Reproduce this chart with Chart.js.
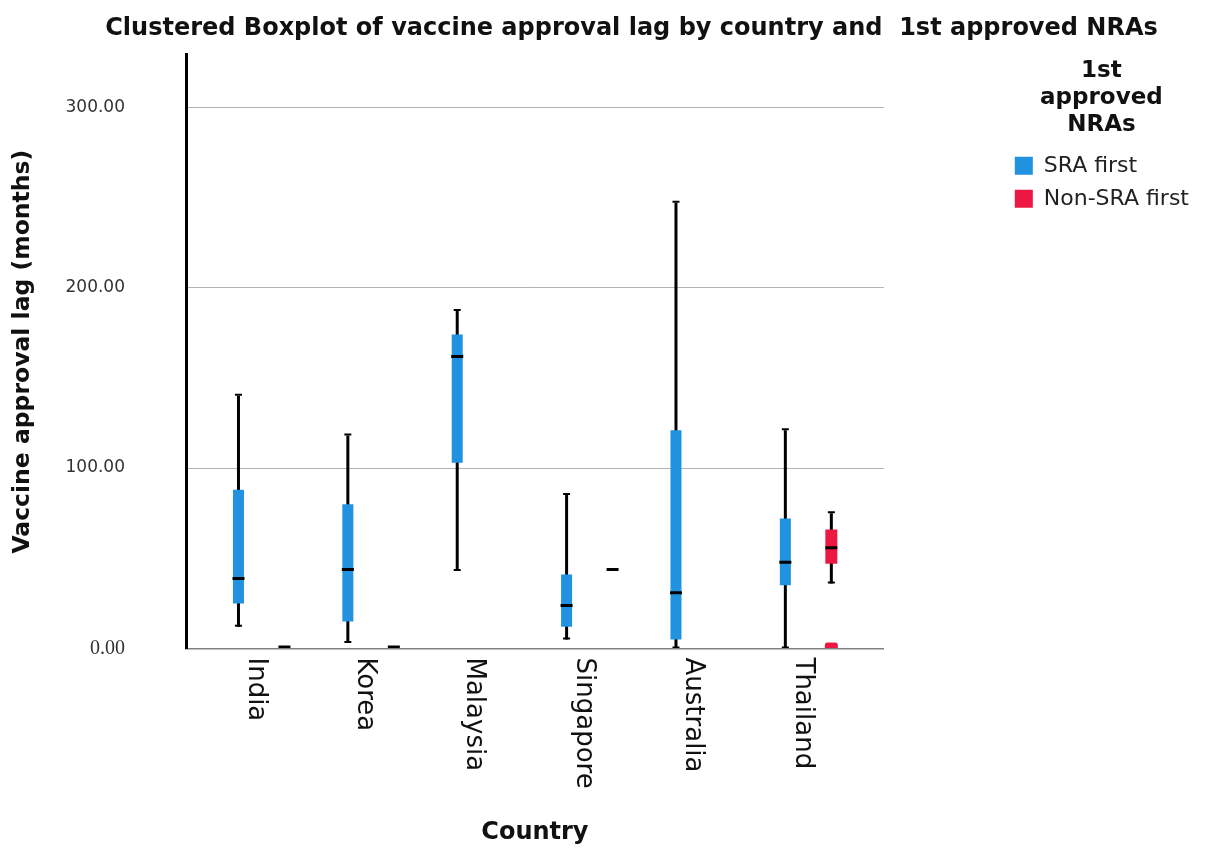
<!DOCTYPE html>
<html>
<head>
<meta charset="utf-8">
<script src="https://cdn.jsdelivr.net/npm/chart.js@4.4.1/dist/chart.umd.min.js"></script>
<style>
  html, body { margin: 0; padding: 0; background: #fff; }
  #wrap { width: 1205px; height: 850px; }
</style>
</head>
<body>
<div id="wrap"><canvas id="myChart"></canvas></div>
<script>
let countries = ['India', 'Korea', 'Malaysia', 'Singapore', 'Australia', 'Thailand'];
let groups = ['SRA first', 'Non-SRA first'];
let yTicks = [0, 100, 200, 300];

// SRA first (months): whisker low, Q1, median, Q3, whisker high
let sraLow = [12, 3, 43, 5, 0, 0];
let sraQ1 = [25, 15, 103, 12, 5, 35];
let sraMedian = [38, 43, 161, 23, 30, 47];
let sraQ3 = [88, 80, 174, 41, 121, 72];
let sraHigh = [140, 118, 187, 85, 247, 121];

// Non-SRA first, null where there is no box
let nonLow = [null, null, null, null, null, 36];
let nonQ1 = [null, null, null, null, null, 47];
let nonMedian = [0, 0, null, 43, null, 55];
let nonQ3 = [null, null, null, null, null, 66];
let nonHigh = [null, null, null, null, null, 75];
let nonOutliers = [null, null, null, null, null, 0];

let blue = '#2192e0';
let red = '#ec1843';
let font = 'DejaVu Sans';
let chunk = 46; // px per group slot, used only for bar widths

function range(lo, hi) {
    let out = [];
    countries.forEach((c, i) => {
        if (lo[i] != null && hi[i] != null) out.push({ x: i, y: [lo[i], hi[i]] });
    });
    return out;
}

function barSet(label, stack, data, color, px, order, extra) {
    return Object.assign({
        label: label,
        stack: stack,
        data: data,
        backgroundColor: color,
        borderWidth: 0,
        categoryPercentage: 0.841,
        barPercentage: px / chunk,
        order: order
    }, extra || {});
}

let datasets = [
    barSet('sra whisker', 'sra', range(sraLow, sraHigh), '#000', 3, 4),
    barSet('sra cap hi', 'sra', range(sraHigh, sraHigh), '#000', 7, 4, { minBarLength: 2 }),
    barSet('sra cap lo', 'sra', range(sraLow, sraLow), '#000', 7, 4, { minBarLength: 2 }),
    barSet(groups[0], 'sra', range(sraQ1, sraQ3), blue, 11, 2),
    barSet('sra median', 'sra', range(sraMedian, sraMedian), '#000', 12, 1, { minBarLength: 3 }),
    barSet('non whisker', 'non', range(nonLow, nonHigh), '#000', 3, 4),
    barSet('non cap hi', 'non', range(nonHigh, nonHigh), '#000', 7, 4, { minBarLength: 2 }),
    barSet('non cap lo', 'non', range(nonLow, nonLow), '#000', 7, 4, { minBarLength: 2 }),
    barSet(groups[1], 'non', range(nonQ1, nonQ3), red, 12, 2),
    barSet('non median', 'non', range(nonMedian, nonMedian), '#000', 12, 1, { minBarLength: 3 }),
    barSet('non outlier', 'non', range(nonOutliers, nonOutliers), red, 13, 1, { minBarLength: 6, borderRadius: 6 })
];

let countryLabels = {
    id: 'countryLabels',
    afterDraw(chart) {
        let ctx = chart.ctx;
        let x = chart.scales.x;
        let bottom = chart.chartArea.bottom;
        ctx.save();
        ctx.font = '26px "' + font + '"';
        ctx.fillStyle = '#111';
        ctx.textAlign = 'left';
        ctx.textBaseline = 'middle';
        countries.forEach((c, i) => {
            ctx.save();
            ctx.translate(x.getPixelForValue(i) - 6, bottom + 9);
            ctx.rotate(Math.PI / 2);
            ctx.fillText(c, 0, 0);
            ctx.restore();
        });
        ctx.restore();
    }
};

let ctx = document.getElementById('myChart').getContext('2d');
let myChart = new Chart(ctx, {
    type: 'bar',
    data: { datasets: datasets },
    plugins: [countryLabels],
    options: {
        responsive: true,
        maintainAspectRatio: false,
        animation: false,
        layout: { padding: { left: 64, right: 6, top: 0, bottom: 0 } },
        scales: {
            x: {
                type: 'linear',
                offset: false,
                min: -0.69,
                max: 5.69,
                afterBuildTicks: s => { s.ticks = countries.map((c, i) => ({ value: i })); },
                grid: { display: false },
                border: { display: true, color: '#808080', width: 1.5 },
                ticks: { display: false },
                title: {
                    display: true, text: 'Country', color: '#111',
                    font: { family: font, size: 24, weight: 'bold' },
                    padding: { top: 0, bottom: 3 }
                },
                afterFit: s => { s.height = 201.5; }
            },
            y: {
                min: 0,
                max: 329,
                stacked: false,
                afterBuildTicks: s => { s.ticks = yTicks.map(v => ({ value: v })); },
                grid: {
                    color: c => (c.tick && c.tick.value === 0 ? 'rgba(0,0,0,0)' : '#b3b3b3'),
                    drawTicks: false
                },
                border: { color: '#000', width: 3 },
                ticks: {
                    padding: 61,
                    color: '#333',
                    font: c => (c.tick && c.tick.value === 0
                        ? { family: 'Liberation Serif', size: 20 }
                        : { family: font, size: 17 }),
                    callback: v => v.toFixed(2)
                },
                title: {
                    display: true, text: 'Vaccine approval lag (months)', color: '#111',
                    font: { family: font, size: 23.5, weight: 'bold' },
                    padding: { top: -55, bottom: 0 }
                },
                afterFit: s => { s.width = 122; s.paddingTop = 0; s.paddingBottom = 0; }
            },
            y2: {
                type: 'linear',
                position: 'right',
                grid: { display: false },
                border: { display: false },
                ticks: { display: false },
                afterFit: s => { s.width = 120; s.paddingTop = 0; s.paddingBottom = 0; }
            }
        },
        plugins: {
            title: {
                display: true,
                text: 'Clustered Boxplot of vaccine approval lag by country and  1st approved NRAs',
                color: '#111',
                font: { family: font, size: 24, weight: 'bold' },
                padding: { top: 14, bottom: 12 }
            },
            legend: {
                position: 'right',
                align: 'start',
                fullSize: false,
                maxWidth: 260,
                labels: {
                    boxWidth: 18,
                    boxHeight: 18,
                    padding: 11,
                    color: '#222',
                    font: { family: font, size: 22 },
                    filter: item => groups.includes(item.text)
                },
                title: {
                    display: true,
                    text: ['1st', 'approved', 'NRAs'],
                    color: '#111',
                    font: { family: font, size: 23, weight: 'bold', lineHeight: '27px' },
                    padding: { top: 5, bottom: 57 }
                }
            },
            tooltip: { enabled: false }
        }
    }
});
</script>
</body>
</html>
